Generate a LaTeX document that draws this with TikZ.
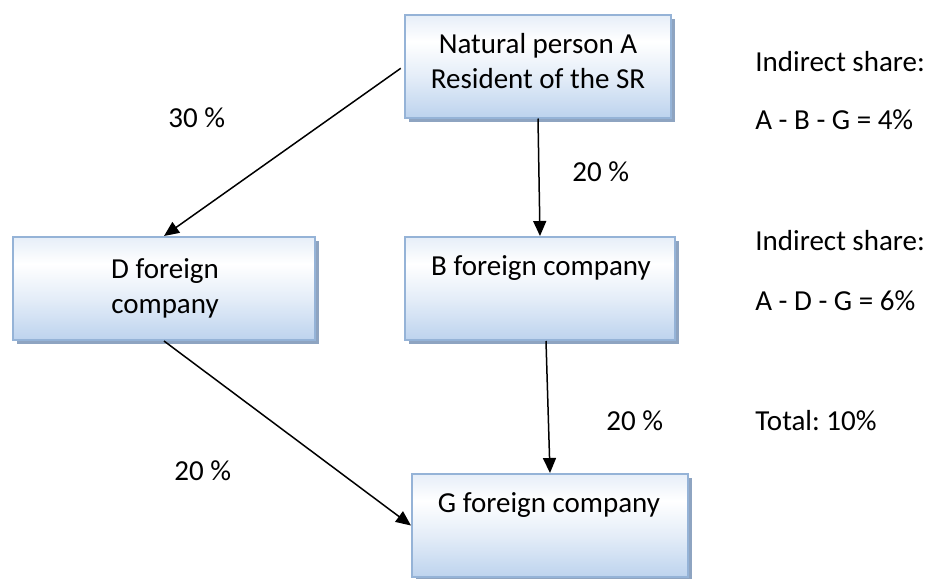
\documentclass[tikz,border=0pt]{standalone}
\usepackage{fontspec}
\setmainfont{Carlito}
\usetikzlibrary{arrows.meta,shadows,calc}

\definecolor{boxedge}{HTML}{95B3D7}
\definecolor{boxtop}{HTML}{E6EEF8}
\definecolor{boxmid}{HTML}{E4EDF8}
\definecolor{boxbot}{HTML}{BDD3EE}
\definecolor{boxshadow}{HTML}{8EA4C1}

% light office-style gradient: tinted top, white band, blue bottom
\pgfdeclareverticalshading{boxfill}{100bp}{color(0bp)=(boxbot); color(25bp)=(boxbot); color(45bp)=(boxmid); color(62bp)=(white); color(75bp)=(boxtop); color(100bp)=(boxtop)}

\frenchspacing

\begin{document}
\begin{tikzpicture}[x=0.5pt,y=-0.5pt,
  entity/.style={draw=boxedge, line width=1pt, shading=boxfill,
    minimum height=51.5pt, inner sep=0pt,
    drop shadow={shadow xshift=2pt, shadow yshift=-2pt, opacity=1, fill=boxshadow}},
  boxtext/.style={anchor=base, inner sep=0pt, font=\fontsize{14.5}{17.5}\selectfont},
  share/.style={anchor=base west, inner sep=0pt, font=\fontsize{14.5}{17.5}\selectfont},
  link/.style={line width=0.75pt, -{Triangle[length=7.5pt,width=6.5pt]}}]

\useasboundingbox (0,0) rectangle (928,579);

% ownership boxes
\node[entity, minimum width=133pt] (A) at (538,66) {};
\node[entity, minimum width=151pt] (D) at (164,288.5) {};
\node[entity, minimum width=135pt] (B) at (540,288.5) {};
\node[entity, minimum width=138pt] (G) at (550,525.5) {};

% box captions
\node[boxtext] (a1) at (538,53) {Natural person A};
\node[boxtext] (a2) at (538,88) {Resident of the SR};
\node[boxtext] (d1) at (165,278) {D foreign};
\node[boxtext] (d2) at (165,313) {company};
\node[boxtext] (b1) at (541,275) {B foreign company};
\node[boxtext] (g1) at (549,512) {G foreign company};

% shareholdings
\draw[link, shorten <=2pt] (A.west) -- (D.north);
\draw[link] (A.south) -- (B.north);
\draw[link] ($(B.south)+(6,0)$) -- (G.north);
\draw[link] (D.south) -- (G.west);

% percentages
\node[share] (p1) at (168,127) {30 \%};
\node[share] (p2) at (572,181) {20 \%};
\node[share] (p3) at (606,430) {20 \%};
\node[share] (p4) at (174,480) {20 \%};

% indirect shares
\node[share] (s1) at (755,71) {Indirect share:};
\node[share] (s2) at (755,129) {A - B - G = 4\%};
\node[share] (s3) at (755,250) {Indirect share:};
\node[share] (s4) at (755,310) {A - D - G = 6\%};
\node[share] (s5) at (755,430) {Total: 10\%};
\end{tikzpicture}
\end{document}
